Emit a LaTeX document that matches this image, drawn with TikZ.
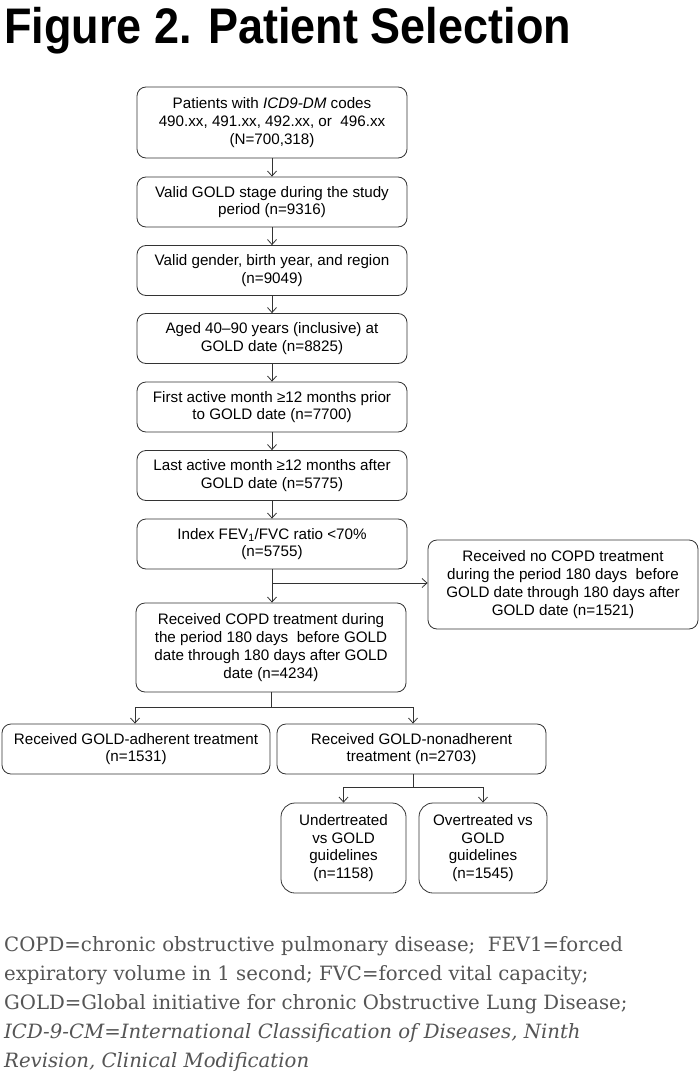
\documentclass[tikz,border=0pt]{standalone}
\usepackage{fontspec}
\setmainfont{Liberation Sans}
\newfontfamily\footfont{DejaVu Serif}
\usetikzlibrary{arrows.meta}
\definecolor{linegray}{HTML}{333333}
\definecolor{footgray}{HTML}{555555}
\begin{document}
\begin{tikzpicture}[x=1pt,y=-1pt,
  box/.style={draw=linegray, line width=0.8pt, rounded corners=9pt, align=center,
    inner sep=0pt, font=\fontsize{15.2}{17.8}\selectfont, text=black},
  mainbox/.style={box, minimum width=270pt, minimum height=50pt},
  tallbox/.style={box, minimum width=270pt, minimum height=89pt},
  smallbox/.style={box, rounded corners=14pt, minimum height=90pt},
  conn/.style={draw=linegray, line width=0.8pt},
  arr/.style={conn, -{Straight Barb[length=5pt,width=9pt,line width=0.8pt]}}]
\useasboundingbox (0,0) rectangle (700,1089);
\fill[white] (0,0) rectangle (700,1089);

\node[anchor=base west, inner sep=0pt] (title) at (4,44)
  {\scalebox{0.9}[1]{\fontsize{50}{50}\selectfont\bfseries Figure 2. Patient Selection}};

\node[tallbox, minimum height=71pt] (b1) at (272,122.5)
  {Patients with \textit{ICD9-DM} codes\\490.xx, 491.xx, 492.xx, or\ \ 496.xx\\(N=700,318)};
\node[mainbox] (b2) at (272,202) {Valid GOLD stage during the study\\period (n=9316)};
\node[mainbox] (b3) at (272,270.5) {Valid gender, birth year, and region\\(n=9049)};
\node[mainbox] (b4) at (272,338.5) {Aged 40–90 years (inclusive) at\\GOLD date (n=8825)};
\node[mainbox] (b5) at (272,407) {First active month ≥12 months prior\\to GOLD date (n=7700)};
\node[mainbox] (b6) at (272,475.5) {Last active month ≥12 months after\\GOLD date (n=5775)};
\node[mainbox] (b7) at (272,544) {Index FEV\textsubscript{1}/FVC ratio <70\%\\(n=5755)};
\node[tallbox] (rx) at (563,584.5) {Received no COPD treatment\\during the period 180 days\ \ before\\GOLD date through 180 days after\\GOLD date (n=1521)};
\node[tallbox] (b8) at (271,647.5) {Received COPD treatment during\\the period 180 days\ \ before GOLD\\date through 180 days after GOLD\\date (n=4234)};
\node[mainbox, minimum width=268pt] (adh) at (136,749) {Received GOLD-adherent treatment\\(n=1531)};
\node[mainbox, minimum width=269pt] (non) at (411.5,749) {Received GOLD-nonadherent\\treatment (n=2703)};
\node[smallbox, minimum width=125pt] (under) at (343.5,848) {Undertreated\\vs GOLD\\guidelines\\(n=1158)};
\node[smallbox, minimum width=128pt] (over) at (483,848) {Overtreated vs\\GOLD\\guidelines\\(n=1545)};

\foreach \a/\b in {b1/b2,b2/b3,b3/b4,b4/b5,b5/b6,b6/b7,b7/b8}
  \draw[arr] (\a.south) -- (\a.south |- \b.north);

\coordinate (br) at (272,583);
\draw[arr] (br) -- (br -| rx.west);

\coordinate (s8) at (271,707);
\draw[conn] (b8.south) -- (s8);
\draw[arr] (s8) -| (135,0 |- adh.north);
\draw[arr] (s8) -| (413,0 |- non.north);

\coordinate (sn) at (413,787);
\draw[conn] (413,0 |- non.south) -- (sn);
\draw[arr] (sn) -| (under.north);
\draw[arr] (sn) -| (over.north);

\node[anchor=north west, inner sep=0pt, align=left, text=footgray,
  font=\footfont\fontsize{19.7}{29}\selectfont] (foot) at (4,936)
  {COPD=chronic obstructive pulmonary disease;\ \ FEV1=forced\\
   expiratory volume in 1 second; FVC=forced vital capacity;\\
   GOLD=Global initiative for chronic Obstructive Lung Disease;\\
   \itshape ICD-9-CM=International Classification of Diseases, Ninth\\
   \itshape Revision, Clinical Modification};
\end{tikzpicture}
\end{document}
